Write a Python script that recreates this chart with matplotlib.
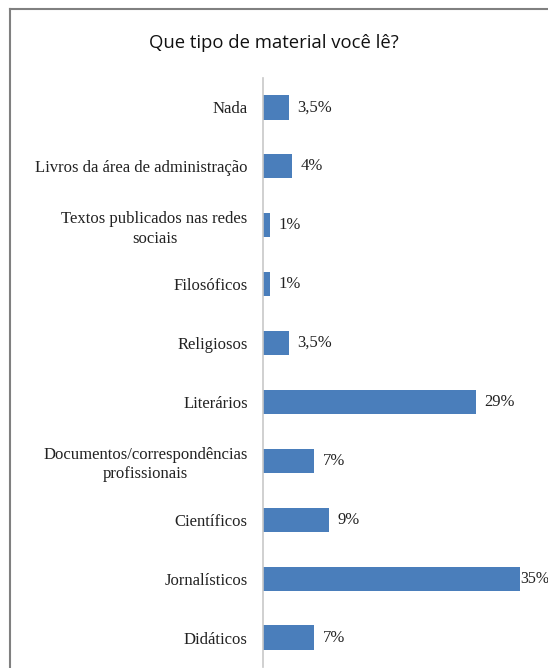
import matplotlib.pyplot as plt
from matplotlib.lines import Line2D

categories = ["Nada", "Livros da área de administração",
              "Textos publicados nas redes\nsociais", "Filosóficos",
              "Religiosos", "Literários",
              "Documentos/correspondências\nprofissionais", "Científicos",
              "Jornalísticos", "Didáticos"]
values = [3.5, 4, 1, 1, 3.5, 29, 7, 9, 35, 7]
value_labels = ["3,5%", "4%", "1%", "1%", "3,5%", "29%", "7%", "9%", "35%", "7%"]

W, H = 548, 668
fig = plt.figure(figsize=(W / 100, H / 100), dpi=100)

# axes placed in pixel terms: left edge 263, top 78, bottom ~667
ax = fig.add_axes([263 / W, 1 / H, (W - 263) / W, (667 - 78) / H])
ypos = list(range(len(categories)))
ax.barh(ypos, values, height=0.41, color="#4a7ebb")
ax.set_ylim(9.5, -0.5)
ax.set_xlim(0, (W - 263) / 7.34)

serif = ["Liberation Serif", "DejaVu Serif"]
for y, v, lab in zip(ypos, values, value_labels):
    # the longest bar has its label squeezed against the right edge
    big = v == max(values)
    ax.annotate(lab, (v, y), xytext=(0 if big else 6, 0),
                textcoords="offset points", va="center", ha="left",
                fontsize=11.5 if big else 12, family=serif,
                color="#222222", annotation_clip=False)

ax.set_yticks(ypos)
ax.set_yticklabels(categories, fontsize=12, family=serif, color="#222222",
                   multialignment="center", linespacing=1.3)
ax.tick_params(axis="y", length=0, pad=11)
ax.set_xticks([])
for side in ["top", "right", "bottom"]:
    ax.spines[side].set_visible(False)
ax.spines["left"].set_color("#c8c8c8")
ax.spines["left"].set_linewidth(1.2)

fig.text(274 / W, 1 - 43 / H, "Que tipo de material você lê?", ha="center",
         va="center", fontsize=13.3, family=["Open Sans", "DejaVu Sans"],
         color="#111111")

# outer frame (top and left edges visible)
fig.add_artist(Line2D([10 / W, 1], [1 - 9 / H, 1 - 9 / H], color="#808080",
                      lw=1.5, transform=fig.transFigure))
fig.add_artist(Line2D([10 / W, 10 / W], [0, 1 - 9 / H], color="#808080",
                      lw=1.5, transform=fig.transFigure))

fig.savefig("out.png", dpi=100)
